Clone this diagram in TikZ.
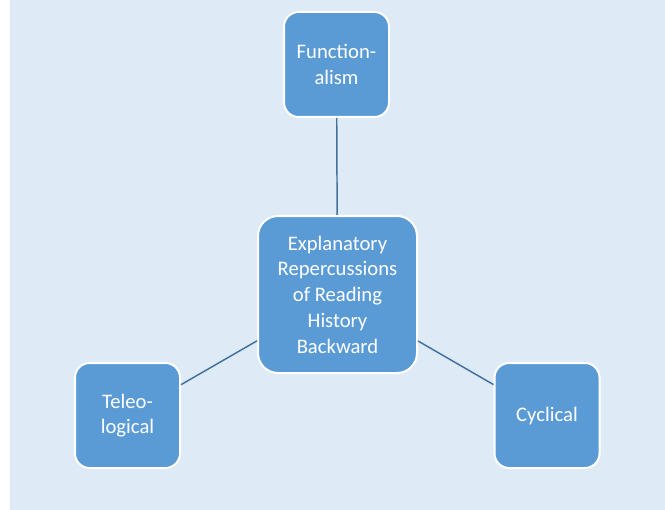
\documentclass[tikz,border=0pt]{standalone}
\usepackage{fontspec}
\setmainfont{Carlito}
\definecolor{boxblue}{HTML}{5B9BD5}
\definecolor{lineblue}{HTML}{41719C}
\definecolor{paleblue}{HTML}{DEEBF7}

\begin{document}
\begin{tikzpicture}[x=0.75pt, y=-0.75pt,
  box/.style={draw=white, line width=1.5pt, fill=boxblue, rounded corners=11pt,
    minimum width=78.75pt, minimum height=78.75pt, inner sep=0pt,
    text=white, align=center, font=\fontsize{15.5}{19.3}\selectfont},
  link/.style={draw=lineblue, line width=1.1pt}]
  % Background
  \useasboundingbox (0,0) rectangle (665,510);
  \fill[paleblue] (10,0) rectangle (665,510);

  % Centre box
  \node[box, minimum width=119.25pt, minimum height=117.75pt, rounded corners=15pt] (mid) at (337.5,294.5)
    {Explanatory\\Repercussions\\of Reading\\History\\Backward};

  % Outer boxes
  \node[box] (func) at (336.5,64.5) {Function-\\alism};
  \node[box] (teleo) at (127.5,415.5) {Teleo-\\logical};
  \node[box] (cyc) at (547,415.5) {Cyclical};

  % Links
  \draw[link] (mid) -- (func);
  \draw[link] (mid) -- (teleo);
  \draw[link] (mid) -- (cyc);
\end{tikzpicture}
\end{document}
